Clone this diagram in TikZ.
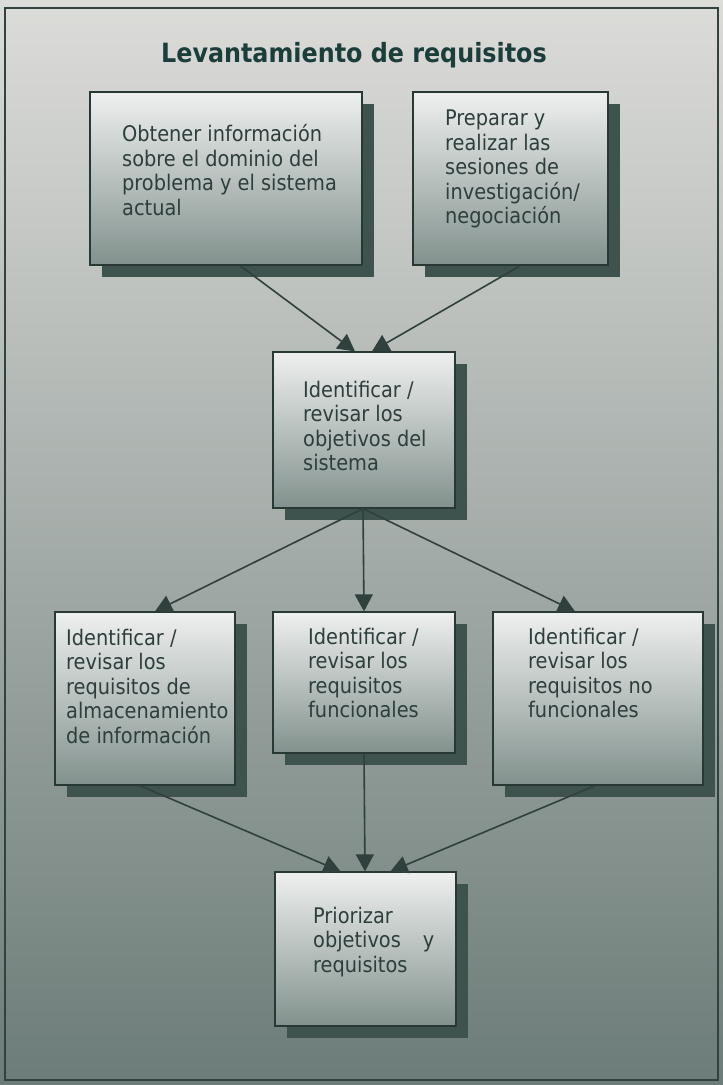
\documentclass[tikz,border=0pt]{standalone}
\usepackage{fontspec}
\setmainfont{DejaVu Sans Condensed}
\usetikzlibrary{arrows.meta,shadows}

\definecolor{bgtop}{RGB}{220,220,217}
\definecolor{bgmid}{RGB}{168,174,172}
\definecolor{bgbot}{RGB}{108,124,120}
\definecolor{frame}{RGB}{50,66,63}
\definecolor{boxtop}{RGB}{238,240,239}
\definecolor{boxmid}{RGB}{196,203,201}
\definecolor{boxbot}{RGB}{130,145,141}
\definecolor{boxline}{RGB}{40,56,53}
\definecolor{shadowc}{RGB}{62,82,78}
\definecolor{txtc}{RGB}{45,62,60}
\definecolor{titlec}{RGB}{28,62,58}
\definecolor{linec}{RGB}{48,64,61}

\begin{document}
\begin{tikzpicture}[x=1pt,y=-1pt,
  stepbox/.style={draw=boxline, line width=1.3pt, inner sep=0pt,
    top color=boxtop, middle color=boxmid, bottom color=boxbot,
    drop shadow={shadow xshift=12pt, shadow yshift=-12pt, fill=shadowc, opacity=1}},
  txt/.style={anchor=west, align=left, inner sep=0pt, text=txtc,
    font=\fontsize{21.5}{24.5}\selectfont},
  link/.style={draw=linec, line width=1.6pt, -{Triangle[length=17pt,width=18pt]}}]

% page and framed background
\useasboundingbox (0,0) rectangle (723,1085);
\shade[top color=bgtop, middle color=bgmid, bottom color=bgbot] (0,0) rectangle (723,1085);
\draw[frame, line width=1.3pt] (5,8) rectangle (718,1080);

% title
\node[font=\bfseries\fontsize{26.5}{30}\selectfont, text=titlec] (title) at (354,55) {Levantamiento de requisitos};

% boxes
\node[stepbox, minimum width=272pt, minimum height=173pt] (b1) at (226,178.5) {};
\node[stepbox, minimum width=195pt, minimum height=173pt] (b2) at (510.5,178.5) {};
\node[stepbox, minimum width=182pt, minimum height=156pt] (b3) at (364,430) {};
\node[stepbox, minimum width=180pt, minimum height=173pt] (b4) at (145,698.5) {};
\node[stepbox, minimum width=182pt, minimum height=141pt] (b5) at (364,682.5) {};
\node[stepbox, minimum width=210pt, minimum height=173pt] (b6) at (598,698.5) {};
\node[stepbox, minimum width=181pt, minimum height=154pt] (b7) at (365.5,949) {};

% box texts
\node[txt] (t1) at (122,170) {Obtener información\\sobre el dominio del\\problema y el sistema\\actual};
\node[txt] (t2) at (445,169) {Preparar y\\realizar las\\sesiones de\\investigación/\\negociación};
\node[txt] (t3) at (303,426) {Identificar /\\revisar los\\objetivos del\\sistema};
\node[txt] (t4) at (66,686) {Identificar /\\revisar los\\requisitos de\\almacenamiento\\de información};
\node[txt] (t5) at (308,673) {Identificar /\\revisar los\\requisitos\\funcionales};
\node[txt] (t6) at (528,673) {Identificar /\\revisar los\\requisitos no\\funcionales};
\node[txt] (t7) at (313,942) {Priorizar\\objetivos\hspace{22pt}y\\requisitos};

% connectors
\draw[link] ([xshift=14pt]b1.south) -- ([xshift=-9pt]b3.north);
\draw[link] ([xshift=10pt]b2.south) -- ([xshift=8pt]b3.north);
\draw[link] ([xshift=-1pt]b3.south) -- ([xshift=10pt]b4.north);
\draw[link] ([xshift=-1pt]b3.south) -- (b5.north);
\draw[link] ([xshift=-1pt]b3.south) -- ([xshift=-23pt]b6.north);
\draw[link] ([xshift=-5pt]b4.south) -- ([xshift=-25pt]b7.north);
\draw[link] (b5.south) -- ([xshift=-0.5pt]b7.north);
\draw[link] ([xshift=-3pt]b6.south) -- ([xshift=25pt]b7.north);
\end{tikzpicture}
\end{document}
